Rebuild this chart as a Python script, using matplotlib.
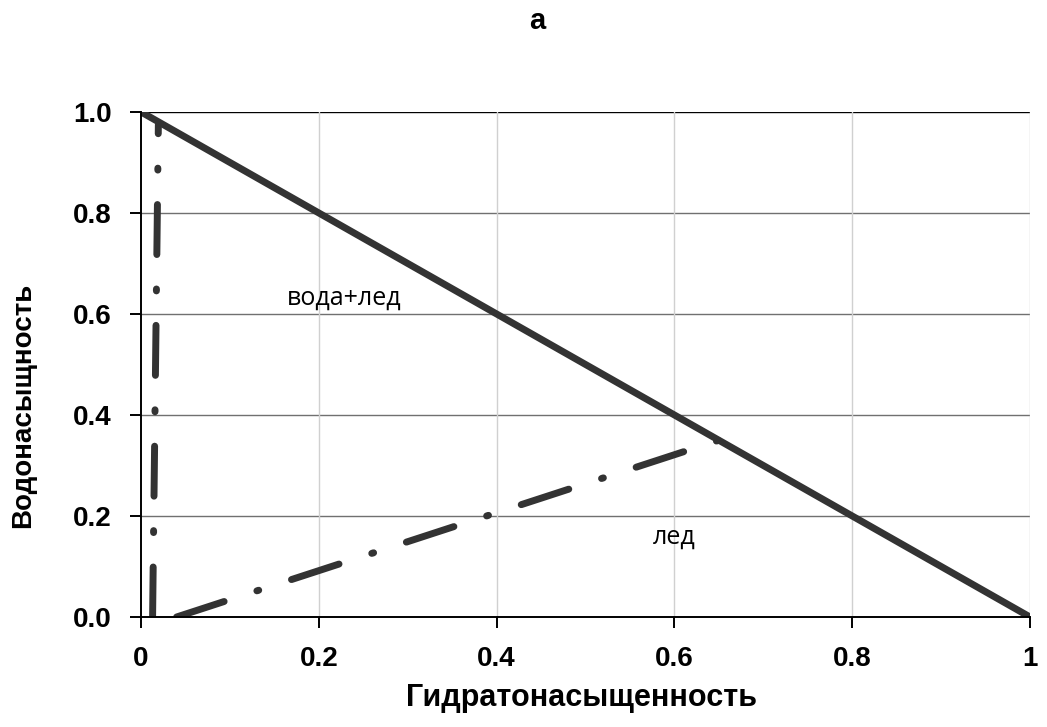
import matplotlib
matplotlib.use('Agg')
import matplotlib.pyplot as plt

plt.rcParams['font.family'] = ['Liberation Sans', 'DejaVu Sans']
plt.rcParams['lines.scale_dashes'] = False

# phase boundaries
total_x = [0.0, 1.0]
total_y = [1.0, 0.0]
ice_x = [0.04, 0.65]
ice_y = [0.0, 0.35]
water_x = [0.013, 0.0195]
water_y = [0.0, 0.975]

xticks = [0, 0.2, 0.4, 0.6, 0.8, 1.0]
xtick_labels = ['0', '0.2', '0.4', '0.6', '0.8', '1']
yticks = [0.0, 0.2, 0.4, 0.6, 0.8, 1.0]
ytick_labels = ['0.0', '0.2', '0.4', '0.6', '0.8', '1.0']

line_color = '#333333'
dashdot = (0, (36, 24.8, 1.4, 24.8))

fig = plt.figure(figsize=(10.47, 7.27), dpi=100)
ax = fig.add_axes([0.1347, 0.1513, 0.8491, 0.6947])

ax.plot(total_x, total_y, color=line_color, lw=5.0, solid_capstyle='butt', zorder=5)
ax.plot(ice_x, ice_y, color=line_color, lw=5.0, linestyle=dashdot,
        dash_capstyle='round', zorder=4)
ax.plot(water_x, water_y, color=line_color, lw=5.0, linestyle=dashdot,
        dash_capstyle='round', zorder=4)

ax.set_xlim(0, 1)
ax.set_ylim(0, 1)

# grid: darker horizontal, light vertical
for y in yticks[1:]:
    ax.axhline(y, color='#000000' if y == 1.0 else '#707070', lw=1.0, zorder=1)
for x in xticks[1:]:
    ax.axvline(x, color='#d0d0d0', lw=1.0, zorder=1)

for side in ['top', 'right']:
    ax.spines[side].set_visible(False)
for side in ['left', 'bottom']:
    ax.spines[side].set_linewidth(1.4)
    ax.spines[side].set_zorder(6)

ax.set_xticks(xticks)
ax.set_xticklabels(xtick_labels)
ax.set_yticks(yticks)
ax.set_yticklabels(ytick_labels)
ax.tick_params(axis='both', direction='out', length=8, width=1.4,
               labelsize=20, pad=13)
for lab in ax.get_xticklabels() + ax.get_yticklabels():
    lab.set_fontweight('bold')

ax.set_xlabel('Гидратонасыщенность', fontsize=22, fontweight='bold', va='center')
ax.set_ylabel('Водонасыщность', fontsize=20, fontweight='bold', va='center')
ax.xaxis.set_label_coords(581 / 1047, 1 - 698 / 727, transform=fig.transFigure)
ax.yaxis.set_label_coords(23 / 1047, 1 - 405 / 727, transform=fig.transFigure)

ax.text(0.228, 0.632, 'вода+лед', fontsize=18, family=['Open Sans', 'DejaVu Sans'],
        ha='center', va='center')
ax.text(0.60, 0.158, 'лед', fontsize=18, family=['Open Sans', 'DejaVu Sans'],
        ha='center', va='center')

fig.text(537 / 1047, 1 - 21 / 727, 'а', fontsize=21, fontweight='bold',
         ha='center', va='center')

fig.savefig('out.png', dpi=100, facecolor='white')
